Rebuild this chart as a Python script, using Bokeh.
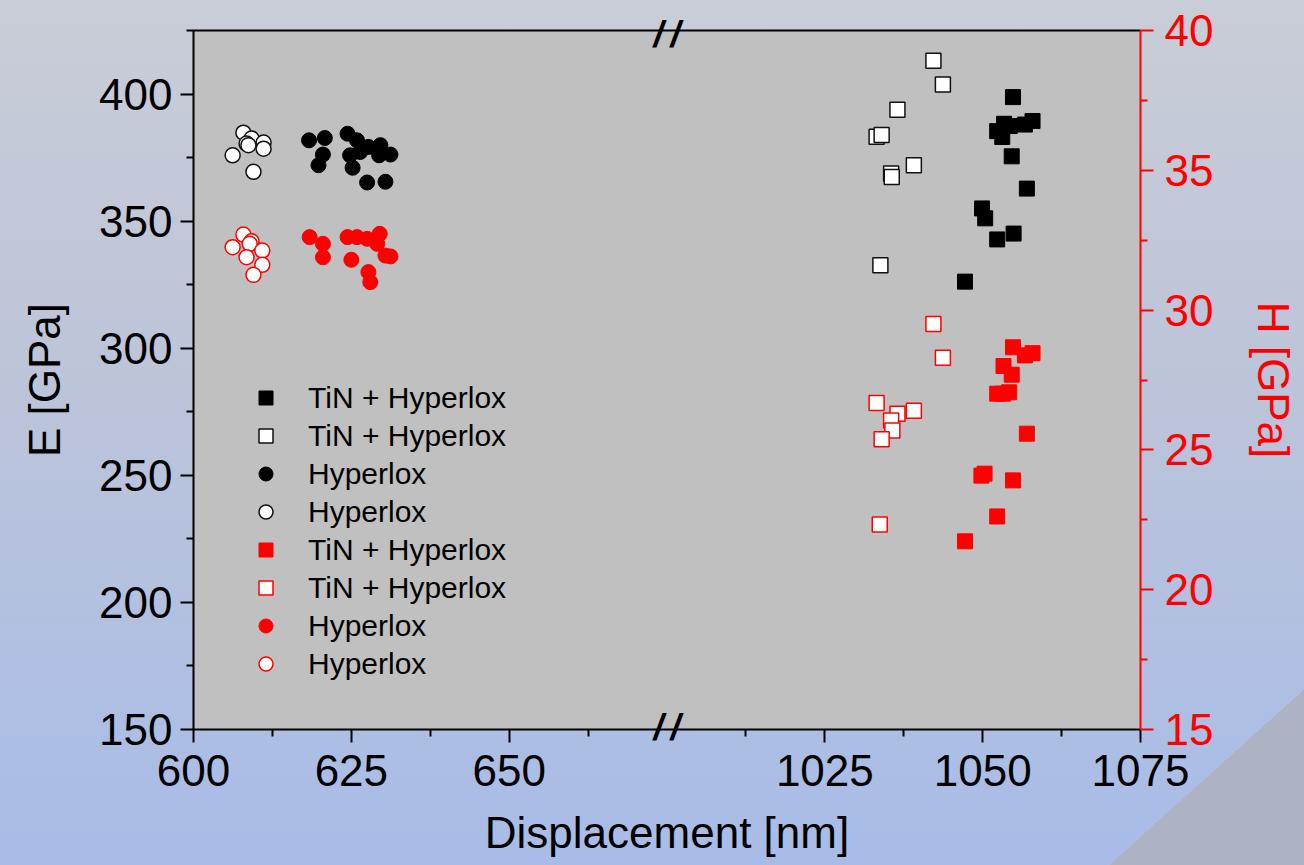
from bokeh.plotting import figure
from bokeh.models import Range1d, LinearAxis, FixedTicker, Legend, LegendItem
from bokeh.embed import file_html
from bokeh.resources import INLINE

# ---------------- data (x in nm, E in GPa, H in GPa) ----------------
tin_E_fill_x = [1054.8, 1053.4, 1054.3, 1052.3, 1053.1, 1056.7, 1057.9, 1054.6, 1057.0, 1049.9, 1050.4, 1052.3, 1054.9, 1047.2]
tin_E_fill_y = [398.8, 388.3, 387.4, 385.4, 383.1, 388.0, 389.4, 375.5, 362.8, 355.0, 351.1, 342.8, 345.1, 326.2]
tin_E_open_x = [1042.2, 1043.7, 1036.5, 1033.2, 1034.0, 1039.1, 1035.5, 1035.6, 1033.8]
tin_E_open_y = [413.1, 403.8, 393.8, 383.2, 383.9, 372.0, 368.7, 367.4, 332.6]
hyp_E_fill_x = [618.3, 620.8, 620.5, 619.8, 624.4, 625.9, 624.8, 625.2, 627.7, 629.6, 631.2, 629.4, 627.5, 630.4, 626.4]
hyp_E_fill_y = [381.8, 382.7, 376.2, 372.0, 384.4, 381.8, 375.9, 371.0, 379.2, 379.9, 376.2, 375.9, 365.2, 365.5, 377.2]
hyp_E_open_x = [607.9, 609.2, 608.4, 611.1, 611.1, 606.2, 609.5, 608.7]
hyp_E_open_y = [384.8, 382.5, 380.5, 380.9, 378.5, 375.9, 369.4, 379.9]

tin_H_fill_x = [1054.8, 1056.7, 1057.9, 1053.3, 1054.6, 1052.3, 1053.2, 1054.2, 1057.0, 1050.3, 1049.8, 1054.8, 1052.3, 1047.2]
tin_H_fill_y = [28.67, 28.38, 28.46, 28.00, 27.69, 27.01, 27.01, 27.06, 25.58, 24.15, 24.08, 23.91, 22.62, 21.73]
tin_H_open_x = [1042.2, 1043.7, 1033.2, 1036.5, 1039.1, 1035.5, 1035.7, 1034.0, 1033.7]
tin_H_open_y = [29.50, 28.30, 26.68, 26.29, 26.40, 26.05, 25.69, 25.38, 22.33]
hyp_H_fill_x = [618.4, 620.5, 620.5, 624.4, 625.9, 627.5, 629.5, 629.1, 630.4, 631.2, 625.0, 627.7, 628.0]
hyp_H_fill_y = [32.61, 32.37, 31.89, 32.61, 32.61, 32.55, 32.73, 32.37, 31.95, 31.92, 31.80, 31.36, 31.00]
hyp_H_open_x = [607.9, 609.2, 606.2, 608.9, 610.9, 608.4, 610.9, 609.5]
hyp_H_open_y = [32.70, 32.46, 32.25, 32.37, 32.13, 31.89, 31.62, 31.26]

x_tick_labels = ["600", "625", "650", "1025", "1050", "1075"]
x_tick_values = [600, 625, 650, 1025, 1050, 1075]
x_minor_values = [612.5, 637.5, 662.5, 1012.5, 1037.5, 1062.5]
legend_labels = ["TiN + Hyperlox", "TiN + Hyperlox", "Hyperlox", "Hyperlox",
                 "TiN + Hyperlox", "TiN + Hyperlox", "Hyperlox", "Hyperlox"]

# broken axis: 600-675 and 1000-1075 joined
SEG1 = (600, 675)
SEG2 = (1000, 1075)
BREAK_AT = 675


def bx(v):
    if v <= SEG1[1] + 50:
        return v - SEG1[0]
    return v - SEG2[0] + (SEG1[1] - SEG1[0])


def bxs(vals):
    return [bx(v) for v in vals]


FONT = "Liberation Sans"
FW, FH = 947, 699
p = figure(frame_width=FW, frame_height=FH,
           x_range=Range1d(0, 150), y_range=Range1d(150, 425),
           output_backend="svg", toolbar_location=None,
           min_border_left=193, min_border_right=164, min_border_top=30, min_border_bottom=136)
p.extra_y_ranges = {"H": Range1d(15, 40)}
p.border_fill_color = None
p.background_fill_color = "#c0c0c0"
p.outline_line_color = None
p.grid.visible = False
p.styles = {"background": "linear-gradient(138deg, rgba(0,0,0,0) 91.4%, #aeb3c4 91.4%), "
                          "linear-gradient(180deg, #c9cdd7 0%, #bcc4d9 45%, #a8bce8 100%)"}

SZ = 15
r1 = p.scatter(bxs(tin_E_fill_x), tin_E_fill_y, marker="square", size=SZ, fill_color="black", line_color="black", line_width=1)
r2 = p.scatter(bxs(tin_E_open_x), tin_E_open_y, marker="square", size=SZ, fill_color="white", line_color="#111111", line_width=1.5)
r3 = p.scatter(bxs(hyp_E_fill_x), hyp_E_fill_y, marker="circle", size=SZ, fill_color="black", line_color="black", line_width=1)
r4 = p.scatter(bxs(hyp_E_open_x), hyp_E_open_y, marker="circle", size=SZ, fill_color="white", line_color="#111111", line_width=1.5)
r5 = p.scatter(bxs(tin_H_fill_x), tin_H_fill_y, marker="square", size=SZ, fill_color="red", line_color="red", line_width=1, y_range_name="H")
r6 = p.scatter(bxs(tin_H_open_x), tin_H_open_y, marker="square", size=SZ, fill_color="white", line_color="red", line_width=1.5, y_range_name="H")
r7 = p.scatter(bxs(hyp_H_fill_x), hyp_H_fill_y, marker="circle", size=SZ, fill_color="red", line_color="red", line_width=1, y_range_name="H")
r8 = p.scatter(bxs(hyp_H_open_x), hyp_H_open_y, marker="circle", size=SZ, fill_color="white", line_color="red", line_width=1.5, y_range_name="H")

# axes
TICK_FS = "44px"
xa = p.xaxis[0]
xa.ticker = FixedTicker(ticks=bxs(x_tick_values), minor_ticks=bxs(x_minor_values))
xa.major_label_overrides = {bx(v): s for v, s in zip(x_tick_values, x_tick_labels)}
xa.axis_label = "Displacement [nm]"

ya = p.yaxis[0]
ya.ticker = FixedTicker(ticks=[150, 200, 250, 300, 350, 400], minor_ticks=[175, 225, 275, 325, 375, 425])
ya.axis_label = "E [GPa]"

yr = LinearAxis(y_range_name="H", axis_label="H [GPa]",
                ticker=FixedTicker(ticks=[15, 20, 25, 30, 35, 40], minor_ticks=[17.5, 22.5, 27.5, 32.5, 37.5]))
p.add_layout(yr, "right")

for ax, col in ((xa, "black"), (ya, "black"), (yr, "red")):
    ax.axis_line_color = col
    ax.axis_line_width = 2
    ax.major_tick_line_color = col
    ax.minor_tick_line_color = col
    ax.major_tick_line_width = 2
    ax.minor_tick_line_width = 2
    ax.major_tick_in = 0
    ax.major_tick_out = 13
    ax.minor_tick_in = 0
    ax.minor_tick_out = 7
    ax.major_label_text_font = FONT
    ax.major_label_text_font_size = TICK_FS
    ax.major_label_text_color = col
    ax.axis_label_text_font = FONT
    ax.axis_label_text_font_size = "44px"
    ax.axis_label_text_font_style = "normal"
    ax.axis_label_text_color = col

xa.major_label_standoff = 12
xa.axis_label_standoff = 19
ya.major_label_standoff = 8
ya.axis_label_standoff = 27
yr.major_label_standoff = 11
yr.axis_label_standoff = 33

# axis-break marks drawn as tick labels of two extra axes (not clipped by the frame)
brk = bx(BREAK_AT)


def break_axis(standoff, line):
    return LinearAxis(ticker=FixedTicker(ticks=[brk], minor_ticks=[]),
                      major_label_overrides={brk: "/\u2009/"},
                      axis_line_color="black" if line else None, axis_line_width=2,
                      major_tick_line_color=None, minor_tick_line_color=None,
                      major_tick_in=0, major_tick_out=0, minor_tick_in=0, minor_tick_out=0,
                      major_label_standoff=standoff,
                      major_label_text_font=FONT, major_label_text_font_size="36px",
                      major_label_text_font_style="bold italic", major_label_text_color="black")


p.add_layout(break_axis(-24, True), "above")
p.add_layout(break_axis(-153, False), "below")

# legend
items = [LegendItem(label=l, renderers=[r]) for l, r in zip(legend_labels, [r1, r2, r3, r4, r5, r6, r7, r8])]
leg = Legend(items=items, location=(55, 48), orientation="vertical",
             glyph_width=35, glyph_height=35, label_standoff=25, spacing=3, padding=0, margin=0,
             label_text_font=FONT, label_text_font_size="30px", label_height=35, label_text_color="black",
             background_fill_alpha=0, border_line_color=None)
p.add_layout(leg, "center")

open("out.html", "w").write(file_html(p, INLINE))
